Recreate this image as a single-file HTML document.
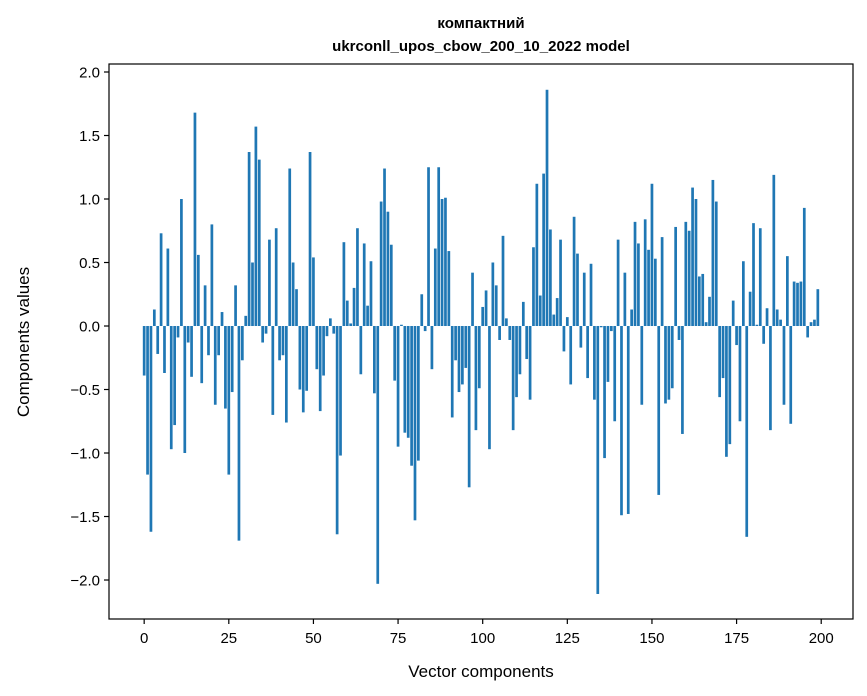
<!DOCTYPE html>
<html><head><meta charset="utf-8"><style>
body{margin:0;background:#fff;}
svg{display:block;font-family:"Liberation Sans","DejaVu Sans",sans-serif;}
</style></head><body>
<svg id="chart" width="867" height="696" viewBox="0 0 867 696">
<rect width="867" height="696" fill="#fff"/>
<text x="481" y="28" text-anchor="middle" font-size="15" font-weight="bold">компактний</text>
<text x="481" y="51" text-anchor="middle" font-size="15" font-weight="bold">ukrconll_upos_cbow_200_10_2022 model</text>
<g id="bars"></g>
<g id="axes"></g>
<text x="481" y="677" text-anchor="middle" font-size="17">Vector components</text>
<text transform="translate(29,342) rotate(-90)" text-anchor="middle" font-size="17">Components values</text>
</svg>
<script>
const values = [
-0.39,-1.17,-1.62,0.13,-0.22,0.73,-0.37,0.61,-0.97,-0.78,
-0.09,1.0,-1.0,-0.13,-0.4,1.68,0.56,-0.45,0.32,-0.23,
0.8,-0.62,-0.23,0.11,-0.65,-1.17,-0.52,0.32,-1.69,-0.27,
0.08,1.37,0.5,1.57,1.31,-0.13,-0.06,0.68,-0.7,0.77,
-0.27,-0.23,-0.76,1.24,0.5,0.29,-0.5,-0.68,-0.51,1.37,
0.54,-0.34,-0.67,-0.39,-0.08,0.06,-0.06,-1.64,-1.02,0.66,
0.2,0.02,0.3,0.77,-0.38,0.65,0.16,0.51,-0.53,-2.03,
0.98,1.24,0.9,0.64,-0.43,-0.95,0.01,-0.84,-0.88,-1.1,
-1.53,-1.06,0.25,-0.04,1.25,-0.34,0.61,1.25,1.0,1.01,
0.59,-0.72,-0.27,-0.52,-0.46,-0.33,-1.27,0.42,-0.82,-0.49,
0.15,0.28,-0.97,0.5,0.32,-0.11,0.71,0.06,-0.11,-0.82,
-0.56,-0.38,0.19,-0.26,-0.58,0.62,1.12,0.24,1.2,1.86,
0.76,0.09,0.22,0.68,-0.2,0.07,-0.46,0.86,0.57,-0.17,
0.42,-0.41,0.49,-0.58,-2.11,-0.01,-1.04,-0.44,-0.04,-0.75,
0.68,-1.49,0.42,-1.48,0.13,0.82,0.65,-0.62,0.84,0.6,
1.12,0.53,-1.33,0.7,-0.61,-0.58,-0.49,0.78,-0.11,-0.85,
0.82,0.75,1.09,1.0,0.39,0.41,0.03,0.23,1.15,0.98,
-0.56,-0.41,-1.03,-0.93,0.2,-0.15,-0.75,0.51,-1.66,0.27,
0.81,0.01,0.77,-0.14,0.14,-0.82,1.19,0.13,0.05,-0.62,
0.55,-0.77,0.35,0.34,0.35,0.93,-0.09,0.03,0.05,0.29
];
const xTicks = [0,25,50,75,100,125,150,175,200];
const yTicks = [-2.0,-1.5,-1.0,-0.5,0.0,0.5,1.0,1.5,2.0];
const yTickLabels = ["\u22122.0","\u22121.5","\u22121.0","\u22120.5","0.0","0.5","1.0","1.5","2.0"];

const L=109,R=853,T=64,B=619;
const xMin=-10.39,xMax=209.39,yMin=-2.307,yMax=2.063;
const xs=v=>L+(v-xMin)/(xMax-xMin)*(R-L);
const ys=v=>B-(v-yMin)/(yMax-yMin)*(B-T);
const NS="http://www.w3.org/2000/svg";
const bars=document.getElementById('bars');
values.forEach((v,i)=>{
  const r=document.createElementNS(NS,'rect');
  const x0=xs(i-0.4),x1=xs(i+0.4);
  const y0=ys(Math.max(v,0)),y1=ys(Math.min(v,0));
  r.setAttribute('x',x0);r.setAttribute('width',x1-x0);
  r.setAttribute('y',y0);r.setAttribute('height',Math.max(y1-y0,0.01));
  r.setAttribute('fill','#1f77b4');
  
  
  bars.appendChild(r);
});
const ax=document.getElementById('axes');
const frame=document.createElementNS(NS,'rect');
frame.setAttribute('x',L);frame.setAttribute('y',T);
frame.setAttribute('width',R-L);frame.setAttribute('height',B-T);
frame.setAttribute('fill','none');frame.setAttribute('stroke','#000');frame.setAttribute('stroke-width','1.2');


ax.appendChild(frame);
xTicks.forEach(t=>{
  const x=xs(t);
  const l=document.createElementNS(NS,'line');
  l.setAttribute('x1',x);l.setAttribute('x2',x);l.setAttribute('y1',B);l.setAttribute('y2',B+5);
  l.setAttribute('stroke','#000');l.setAttribute('stroke-width','1.2');
  
  
  ax.appendChild(l);
  const tx=document.createElementNS(NS,'text');
  tx.setAttribute('x',x);tx.setAttribute('y',B+24);tx.setAttribute('text-anchor','middle');tx.setAttribute('font-size','15');
  tx.textContent=t;
  
  
  ax.appendChild(tx);
});
yTicks.forEach((t,i)=>{
  const y=ys(t);
  const l=document.createElementNS(NS,'line');
  l.setAttribute('x1',L-5);l.setAttribute('x2',L);l.setAttribute('y1',y);l.setAttribute('y2',y);
  l.setAttribute('stroke','#000');l.setAttribute('stroke-width','1.2');
  
  
  ax.appendChild(l);
  const tx=document.createElementNS(NS,'text');
  tx.setAttribute('x',L-9);tx.setAttribute('y',y+5.5);tx.setAttribute('text-anchor','end');tx.setAttribute('font-size','15');
  tx.textContent=yTickLabels[i];
  
  
  ax.appendChild(tx);
});
</script>
</body></html>
